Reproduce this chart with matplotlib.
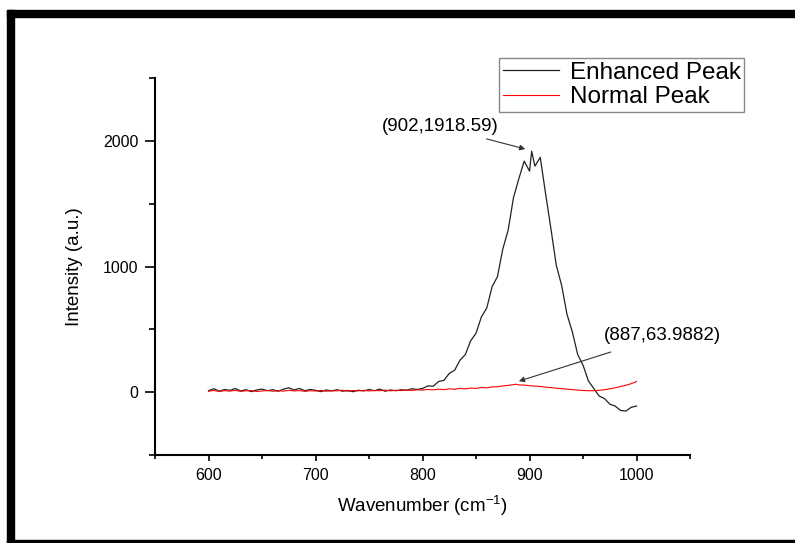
import matplotlib
matplotlib.use("Agg")
import matplotlib.pyplot as plt
from matplotlib.patches import Rectangle
from matplotlib.ticker import MultipleLocator

plt.rcParams["font.family"] = ["Liberation Sans", "DejaVu Sans"]
plt.rcParams["mathtext.fontset"] = "custom"
plt.rcParams["mathtext.rm"] = "Liberation Sans"

# Enhanced (SERS) spectrum
enhanced_x = [600, 605, 610, 615, 620, 625, 630, 635, 640, 645,
              650, 655, 660, 665, 670, 675, 680, 685, 690, 695,
              700, 705, 710, 715, 720, 725, 730, 735, 740, 745,
              750, 755, 760, 765, 770, 775, 780, 785, 790, 795,
              800, 805, 810, 815, 820, 825, 830, 835, 840, 845,
              850, 855, 860, 865, 870, 875, 880, 885, 890, 895,
              900, 902, 905, 910, 915, 920, 925, 930, 935, 940,
              945, 950, 955, 960, 965, 970, 975, 980, 985, 990,
              995, 1000]
enhanced_y = [12, 28, 8, 22, 15, 30, 10, 20, 5, 18,
              25, 12, 20, 8, 24, 35, 18, 30, 12, 22,
              15, 5, 18, 10, 20, 8, 14, 4, 16, 10,
              22, 12, 25, 8, 18, 12, 20, 15, 28, 22,
              30, 50, 48, 85, 95, 150, 175, 255, 300, 410,
              470, 600, 670, 840, 920, 1140, 1290, 1550, 1700, 1840,
              1760, 1918.59, 1800, 1870, 1580, 1300, 1010, 850, 620, 480,
              300, 215, 90, 30, -30, -50, -95, -110, -145, -150,
              -120, -110]

# Normal Raman spectrum
normal_x = [600, 605, 610, 615, 620, 625, 630, 635, 640, 645,
            650, 655, 660, 665, 670, 675, 680, 685, 690, 695,
            700, 705, 710, 715, 720, 725, 730, 735, 740, 745,
            750, 755, 760, 765, 770, 775, 780, 785, 790, 795,
            800, 805, 810, 815, 820, 825, 830, 835, 840, 845,
            850, 855, 860, 865, 870, 875, 880, 885, 887, 890,
            895, 900, 905, 910, 915, 920, 925, 930, 935, 940,
            945, 950, 955, 960, 965, 970, 975, 980, 985, 990,
            995, 1000]
normal_y = [8, 14, 6, 12, 9, 15, 7, 11, 13, 6,
            10, 14, 8, 12, 9, 15, 10, 13, 7, 12,
            10, 14, 8, 12, 11, 16, 9, 13, 11, 15,
            10, 14, 12, 17, 11, 15, 13, 18, 14, 19,
            17, 22, 19, 24, 21, 27, 24, 30, 27, 33,
            31, 37, 35, 42, 44, 50, 55, 60, 63.9882, 58,
            57, 52, 49, 46, 40, 37, 32, 29, 24, 21,
            17, 14, 12, 12, 15, 20, 27, 35, 45, 55,
            68, 85]

x_ticks = [600, 700, 800, 900, 1000]
y_ticks = [0, 1000, 2000]

fig = plt.figure(figsize=(7.95, 5.43), dpi=100)
ax = fig.add_axes([0.195, 0.162, 0.673, 0.694])

ax.plot(enhanced_x, enhanced_y, color="#222222", lw=0.9, label="Enhanced Peak")
ax.plot(normal_x, normal_y, color="red", lw=0.8, label="Normal Peak")

ax.set_xlim(550, 1050)
ax.set_ylim(-500, 2500)
ax.set_xticks(x_ticks)
ax.set_yticks(y_ticks)
ax.xaxis.set_minor_locator(MultipleLocator(50))
ax.yaxis.set_minor_locator(MultipleLocator(500))

for side in ["top", "right"]:
    ax.spines[side].set_visible(False)
for side in ["left", "bottom"]:
    ax.spines[side].set_linewidth(1.5)

ax.tick_params(axis="y", which="major", length=7, width=1.2, labelsize=11.5, pad=5)
ax.tick_params(axis="y", which="minor", length=4, width=1.2)
ax.tick_params(axis="x", which="major", length=4, width=1.2, labelsize=11.5, pad=5)
ax.tick_params(axis="x", which="minor", length=3, width=1.2)

ax.set_xlabel("Wavenumber (cm$^{\\mathrm{-1}}$)", fontsize=13.5, labelpad=8)
ax.set_ylabel("Intensity (a.u.)", fontsize=13.5, labelpad=14)

ax.annotate("(902,1918.59)", xy=(896, 1936), xytext=(817, 2112),
            fontsize=13.5, ha="center", va="center",
            arrowprops=dict(arrowstyle="-|>", color="#333333", lw=0.8,
                            mutation_scale=8, shrinkA=2, shrinkB=0))
ax.annotate("(887,63.9882)", xy=(890, 88), xytext=(1024, 450),
            fontsize=13.5, ha="center", va="center",
            arrowprops=dict(arrowstyle="-|>", color="#333333", lw=0.8,
                            mutation_scale=8, shrinkA=12, shrinkB=0))

leg = fig.legend(loc="upper left", bbox_to_anchor=(0.628, 0.893),
                 fontsize=17.5, handlelength=2.3, labelspacing=0.1,
                 borderpad=0.15, handletextpad=0.45, borderaxespad=0,
                 fancybox=False, framealpha=1)
leg.get_frame().set_edgecolor("#888888")
leg.get_frame().set_linewidth(1.0)

# thick black frame around the picture (right side is cut off)
W, H = 795.0, 543.0
fig.add_artist(Rectangle((7 / W, 1 - 17 / H), 1 - 7 / W, 7 / H,
                         transform=fig.transFigure, color="black"))
fig.add_artist(Rectangle((7 / W, 0), 7 / W, 1 - 10 / H,
                         transform=fig.transFigure, color="black"))
fig.add_artist(Rectangle((7 / W, 0), 1 - 7 / W, 3 / H,
                         transform=fig.transFigure, color="black"))

fig.savefig("out.png", dpi=100)
